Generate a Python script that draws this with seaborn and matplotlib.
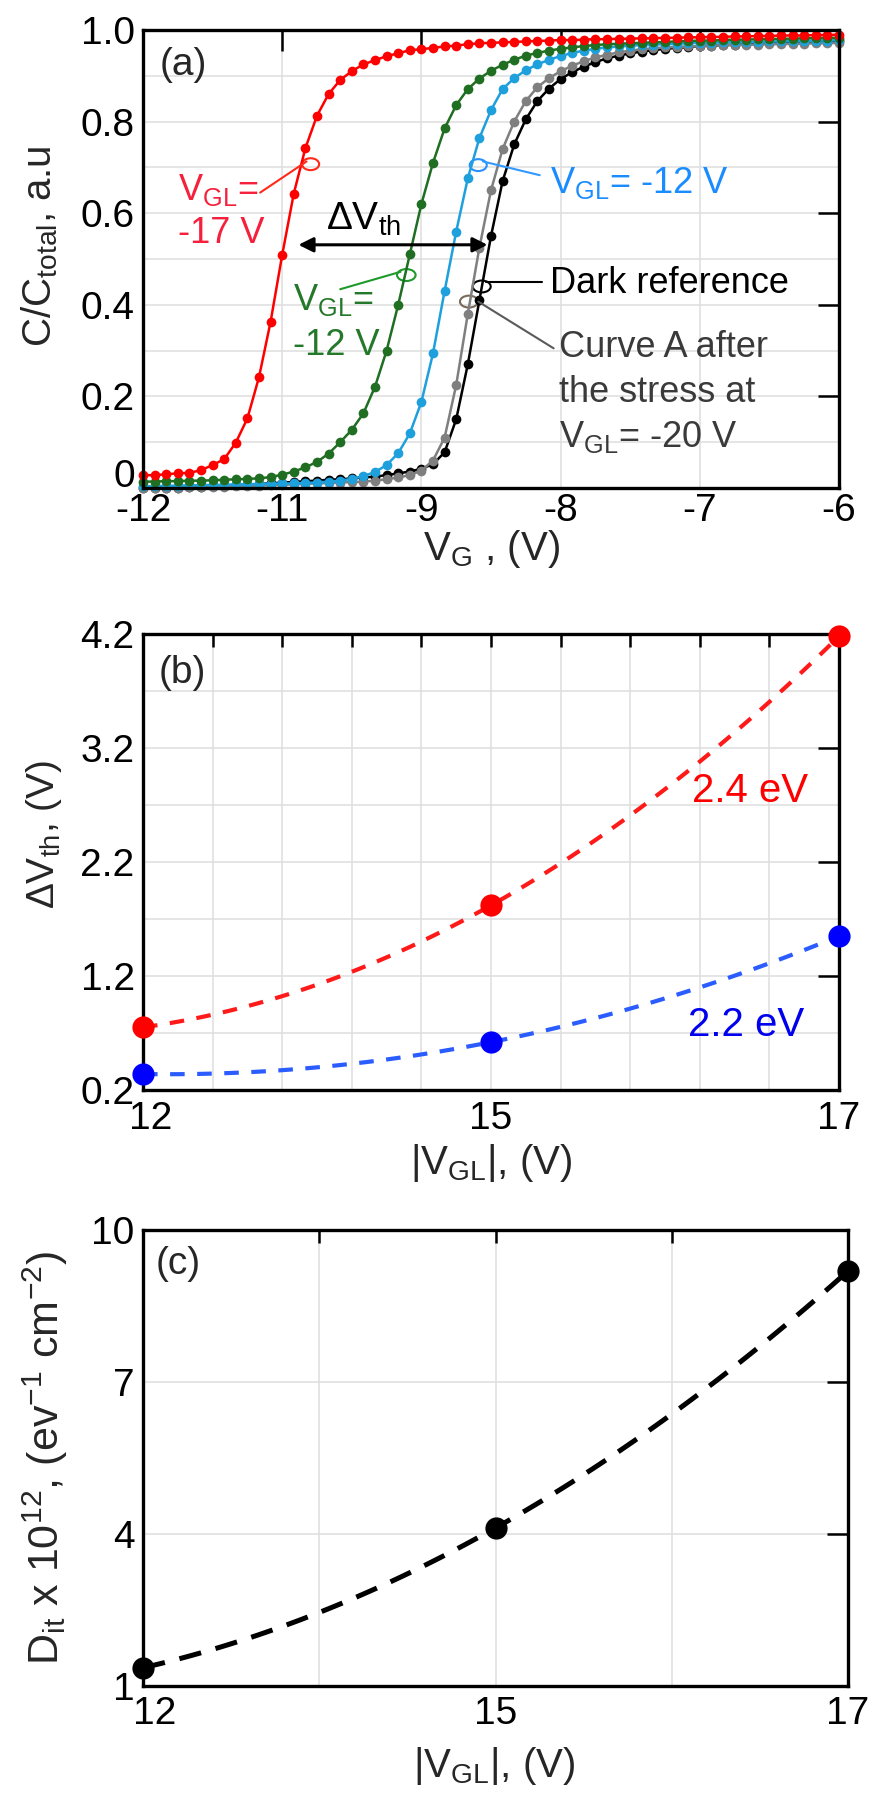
import numpy as np
import pandas as pd
import matplotlib
matplotlib.use("Agg")
import matplotlib.pyplot as plt
import matplotlib.transforms as mtransforms
from matplotlib.patches import Ellipse
from matplotlib.ticker import FixedLocator, MultipleLocator
import seaborn as sns

# ---- panel (a): normalised capacitance vs gate voltage (0.1 V steps on the drawn axis)
vg = np.round(np.linspace(-12, -6, 61), 1)
vg_ticks = [-12, -10.8, -9.6, -8.4, -7.2, -6]
vg_ticklabels = ["-12", "-11", "-9", "-8", "-7", "-6"]

c_red = [0.028, 0.028, 0.030, 0.032, 0.033, 0.039, 0.050, 0.063, 0.099, 0.152,
         0.242, 0.363, 0.509, 0.643, 0.742, 0.813, 0.860, 0.891, 0.910, 0.925,
         0.934, 0.943, 0.949, 0.956, 0.958, 0.961, 0.964, 0.966, 0.969, 0.971,
         0.972, 0.973, 0.974, 0.975, 0.976, 0.977, 0.978, 0.978, 0.979, 0.980,
         0.980, 0.981, 0.981, 0.982, 0.982, 0.983, 0.983, 0.984, 0.984, 0.985,
         0.985, 0.986, 0.986, 0.987, 0.987, 0.988, 0.988, 0.988, 0.989, 0.989, 0.990]
c_green = [0.014, 0.014, 0.015, 0.015, 0.016, 0.016, 0.017, 0.018, 0.019, 0.020,
           0.021, 0.024, 0.029, 0.036, 0.045, 0.057, 0.075, 0.100, 0.127, 0.163,
           0.221, 0.300, 0.400, 0.510, 0.620, 0.710, 0.785, 0.836, 0.871, 0.894,
           0.911, 0.924, 0.935, 0.944, 0.950, 0.955, 0.959, 0.962, 0.965, 0.967,
           0.969, 0.970, 0.971, 0.972, 0.973, 0.974, 0.975, 0.976, 0.977, 0.977,
           0.978, 0.979, 0.979, 0.980, 0.980, 0.981, 0.981, 0.982, 0.982, 0.983, 0.983]
c_cyan = [0.004, 0.004, 0.005, 0.005, 0.006, 0.006, 0.007, 0.007, 0.008, 0.008,
          0.009, 0.009, 0.010, 0.010, 0.011, 0.012, 0.014, 0.016, 0.020, 0.026,
          0.035, 0.050, 0.076, 0.119, 0.188, 0.294, 0.430, 0.560, 0.676, 0.764,
          0.825, 0.871, 0.895, 0.912, 0.925, 0.935, 0.943, 0.950, 0.955, 0.959,
          0.962, 0.964, 0.966, 0.967, 0.968, 0.969, 0.970, 0.971, 0.972, 0.972,
          0.973, 0.973, 0.974, 0.974, 0.975, 0.975, 0.976, 0.976, 0.977, 0.977, 0.978]
c_gray = [0.000, 0.000, 0.001, 0.001, 0.002, 0.002, 0.003, 0.003, 0.004, 0.004,
          0.005, 0.006, 0.007, 0.008, 0.009, 0.010, 0.011, 0.012, 0.013, 0.014,
          0.016, 0.019, 0.023, 0.028, 0.038, 0.060, 0.110, 0.225, 0.380, 0.525,
          0.650, 0.740, 0.800, 0.845, 0.875, 0.895, 0.910, 0.922, 0.932, 0.940,
          0.946, 0.951, 0.955, 0.958, 0.960, 0.962, 0.963, 0.964, 0.965, 0.966,
          0.967, 0.967, 0.968, 0.968, 0.969, 0.969, 0.970, 0.970, 0.971, 0.971, 0.972]
c_black = [0.000, 0.000, 0.001, 0.001, 0.002, 0.003, 0.004, 0.005, 0.006, 0.007,
           0.009, 0.010, 0.012, 0.013, 0.015, 0.016, 0.018, 0.019, 0.021, 0.023,
           0.025, 0.028, 0.032, 0.036, 0.042, 0.052, 0.078, 0.150, 0.270, 0.410,
           0.550, 0.670, 0.750, 0.805, 0.845, 0.872, 0.893, 0.908, 0.920, 0.930,
           0.938, 0.944, 0.949, 0.953, 0.956, 0.959, 0.961, 0.963, 0.965, 0.966,
           0.967, 0.968, 0.969, 0.970, 0.971, 0.972, 0.972, 0.973, 0.974, 0.974, 0.975]

# ---- panels (b) and (c): vs |V_GL|
vgl_labels = ["12", "15", "17"]
dvth_24ev = [0.75, 1.82, 4.18]
dvth_22ev = [0.34, 0.62, 1.55]
dit = [1.36, 4.12, 9.19]

sns.set_theme(style="white")
plt.rcParams["font.family"] = ["Liberation Sans", "DejaVu Sans"]
plt.rcParams["mathtext.fontset"] = "custom"
plt.rcParams["mathtext.rm"] = "Liberation Sans"
plt.rcParams["mathtext.it"] = "Liberation Sans:italic"
plt.rcParams["mathtext.bf"] = "Liberation Sans:bold"
plt.rcParams["axes.unicode_minus"] = False

W, H = 874, 1807
fig = plt.figure(figsize=(W / 100, H / 100), dpi=100)


def px_axes(l, t, r, b):
    return fig.add_axes([l / W, 1 - b / H, (r - l) / W, (b - t) / H])


ax_a = px_axes(143, 30, 839, 488)
ax_b = px_axes(143, 634, 839, 1090)
ax_c = px_axes(143, 1230, 848, 1686)

GRID = "#dedede"
TICK_FS = 28


def frame(ax):
    for sp in ax.spines.values():
        sp.set_linewidth(2.4)
        sp.set_color("black")
    ax.set_axisbelow(True)


def nudge(label, dx, dy):
    # shift one tick label by a few pixels
    label.set_transform(label.get_transform() +
                        mtransforms.ScaledTranslation(dx / 100, dy / 100,
                                                      fig.dpi_scale_trans))


# ================= (a)
curves = [(c_black, "#000000"), (c_gray, "#7f7f7f"), (c_cyan, "#1ea0dc"),
          (c_green, "#1f6e22"), (c_red, "#ff0000")]
for vals, col in curves:
    sns.lineplot(x=vg, y=vals, ax=ax_a, color=col, lw=1.8, marker="o",
                 markersize=7, markeredgewidth=0, clip_on=False)

ax_a.set_xlim(-12, -6)
ax_a.set_ylim(0, 1.0)
ax_a.set_xticks(vg_ticks)
ax_a.set_xticklabels(vg_ticklabels)
ax_a.set_yticks([0, 0.2, 0.4, 0.6, 0.8, 1.0])
ax_a.set_yticklabels(["0", "0.2", "0.4", "0.6", "0.8", "1.0"])
ax_a.yaxis.set_minor_locator(MultipleLocator(0.1))
ax_a.grid(True, which="major", axis="x", color=GRID, lw=1.1)
ax_a.grid(True, which="both", axis="y", color=GRID, lw=1.1)
ax_a.tick_params(which="major", direction="in", length=15, width=1.8,
                 top=True, right=True, labelsize=TICK_FS, colors="black")
ax_a.tick_params(which="minor", length=0)
ax_a.tick_params(axis="x", pad=3.5)
ax_a.tick_params(axis="y", pad=6)
frame(ax_a)

ax_a.set_xlabel(r"V$_{\rm G}$ , (V)", fontsize=29)
ax_a.xaxis.set_label_coords(0.5, -0.088)
ax_a.xaxis.label.set_va("top")
ax_a.set_ylabel(r"C/C$_{\rm total}$, a.u", fontsize=29)
ax_a.yaxis.set_label_coords(-0.119, 0.528)

ax_a.text(0.024, 0.963, "(a)", transform=ax_a.transAxes, fontsize=28,
          va="top", ha="left")

ANN = 26
# red label
ax_a.text(-11.70, 0.629, r"V$_{\rm GL}$=", color="#f5203c", fontsize=ANN)
ax_a.text(-11.70, 0.535, "-17 V", color="#f5203c", fontsize=ANN)
ax_a.plot([-10.99, -10.59], [0.645, 0.713], color="#ff2a1a", lw=1.5)
ax_a.add_patch(Ellipse((-10.555, 0.707), 0.147, 0.026, fill=False,
                       ec="#ff2a1a", lw=1.5))
# green label
ax_a.text(-10.71, 0.389, r"V$_{\rm GL}$=", color="#23782a", fontsize=ANN)
ax_a.text(-10.71, 0.290, "-12 V", color="#23782a", fontsize=ANN)
ax_a.plot([-10.30, -9.78], [0.434, 0.472], color="#1f9a2a", lw=1.5)
ax_a.add_patch(Ellipse((-9.73, 0.465), 0.16, 0.026, fill=False,
                       ec="#1f9a2a", lw=1.5))
# cyan label
ax_a.text(-8.49, 0.644, r"V$_{\rm GL}$= -12 V", color="#1a8cff", fontsize=ANN)
ax_a.plot([-8.58, -9.07], [0.683, 0.713], color="#3399ff", lw=1.5)
ax_a.add_patch(Ellipse((-9.11, 0.705), 0.147, 0.026, fill=False,
                       ec="#2a90ff", lw=1.5))
# dark reference
ax_a.text(-8.49, 0.426, "Dark reference", color="black", fontsize=ANN)
ax_a.plot([-8.56, -9.04], [0.450, 0.450], color="black", lw=1.5)
ax_a.add_patch(Ellipse((-9.08, 0.44), 0.155, 0.026, fill=False,
                       ec="black", lw=1.5))
# curve A
ax_a.text(-8.41, 0.287, "Curve A after", color="#3a3a3a", fontsize=ANN)
ax_a.text(-8.41, 0.188, "the stress at", color="#3a3a3a", fontsize=ANN)
ax_a.text(-8.41, 0.090, r"V$_{\rm GL}$= -20 V", color="#3a3a3a", fontsize=ANN)
ax_a.plot([-8.46, -9.11], [0.305, 0.407], color="#5a5a5a", lw=1.5)
ax_a.add_patch(Ellipse((-9.19, 0.407), 0.155, 0.026, fill=False,
                       ec="#7a6a5a", lw=1.5))
# delta Vth arrow
ax_a.text(-10.42, 0.563, r"ΔV$_{\rm th}$", color="black", fontsize=28)
ax_a.annotate("", xy=(-9.03, 0.531), xytext=(-10.66, 0.531),
              arrowprops=dict(arrowstyle="<|-|>", color="black", lw=2.2,
                              mutation_scale=22, shrinkA=0, shrinkB=0))

# ================= (b)
pos = np.arange(len(vgl_labels))
for vals, mcol, lcol in [(dvth_24ev, "#ff0000", "#ff1a1a"),
                         (dvth_22ev, "#0000ff", "#2a5cff")]:
    sns.regplot(x=pos, y=vals, order=2, ci=None, scatter=False, ax=ax_b,
                line_kws=dict(color=lcol, lw=3, dashes=(3.5, 3)))
    ax_b.plot(pos, vals, "o", color=mcol, markersize=16, markeredgewidth=0,
              clip_on=False, zorder=5)

ax_b.set_xlim(0, 2)
ax_b.set_ylim(0.2, 4.2)
ax_b.set_xticks(pos)
ax_b.set_xticklabels(vgl_labels)
ax_b.xaxis.set_minor_locator(MultipleLocator(0.2))
ax_b.set_yticks([0.2, 1.2, 2.2, 3.2, 4.2])
ax_b.set_yticklabels(["0.2", "1.2", "2.2", "3.2", "4.2"])
ax_b.yaxis.set_minor_locator(FixedLocator([0.7, 1.7, 2.7, 3.7]))
ax_b.grid(True, which="both", color=GRID, lw=1.1)
ax_b.tick_params(which="both", direction="in", width=1.8, top=True,
                 right=True, labelsize=TICK_FS, colors="black")
ax_b.tick_params(axis="x", which="both", length=9, pad=8)
ax_b.tick_params(axis="y", which="major", length=15, pad=6)
ax_b.tick_params(axis="y", which="minor", length=0)
frame(ax_b)
ax_b.set_xlabel(r"|V$_{\rm GL}$|, (V)", fontsize=29)
ax_b.xaxis.set_label_coords(0.5, -0.115)
ax_b.xaxis.label.set_va("top")
ax_b.set_ylabel(r"ΔV$_{\rm th}$, (V)", fontsize=28)
ax_b.yaxis.set_label_coords(-0.1135, 0.561)
ax_b.text(0.022, 0.954, "(b)", transform=ax_b.transAxes, fontsize=28,
          va="top", ha="left")
ax_b.text(1.578, 2.726, "2.4 eV", color="#ff0000", fontsize=29)
ax_b.text(1.566, 0.678, "2.2 eV", color="#0000ee", fontsize=29)

# ================= (c)
sns.regplot(x=pos, y=dit, order=2, ci=None, scatter=False, ax=ax_c,
            line_kws=dict(color="black", lw=3.6, dashes=(4.5, 3)))
ax_c.plot(pos, dit, "o", color="black", markersize=16, markeredgewidth=0,
          clip_on=False, zorder=5)
ax_c.set_xlim(0, 2)
ax_c.set_ylim(1, 10)
ax_c.set_xticks(pos)
ax_c.set_xticklabels(vgl_labels)
ax_c.xaxis.set_minor_locator(FixedLocator([0.5, 1.5]))
ax_c.set_yticks([1, 4, 7, 10])
ax_c.grid(True, which="both", color=GRID, lw=1.1)
ax_c.tick_params(which="both", direction="in", width=1.8, top=True,
                 right=True, labelsize=TICK_FS, colors="black")
ax_c.tick_params(axis="x", which="both", length=9, pad=7.5)
ax_c.tick_params(axis="y", which="major", length=15, pad=6)
frame(ax_c)
ax_c.set_xlabel(r"|V$_{\rm GL}$|, (V)", fontsize=29)
ax_c.xaxis.set_label_coords(0.498, -0.13)
ax_c.xaxis.label.set_va("top")
ax_c.set_ylabel(r"D$_{\rm it}$ x 10$^{12}$, (ev$^{-1}$ cm$^{-2}$)", fontsize=31)
ax_c.yaxis.set_label_coords(-0.1035, 0.5)
ax_c.text(0.018, 0.965, "(c)", transform=ax_c.transAxes, fontsize=28,
          va="top", ha="left")

# corner labels nudged apart, as in the original
nudge(ax_a.get_yticklabels()[0], 0, 15)
nudge(ax_b.get_xticklabels()[0], 8, 0)
nudge(ax_c.get_xticklabels()[0], 12, 0)

fig.savefig("out.png", dpi=100)
